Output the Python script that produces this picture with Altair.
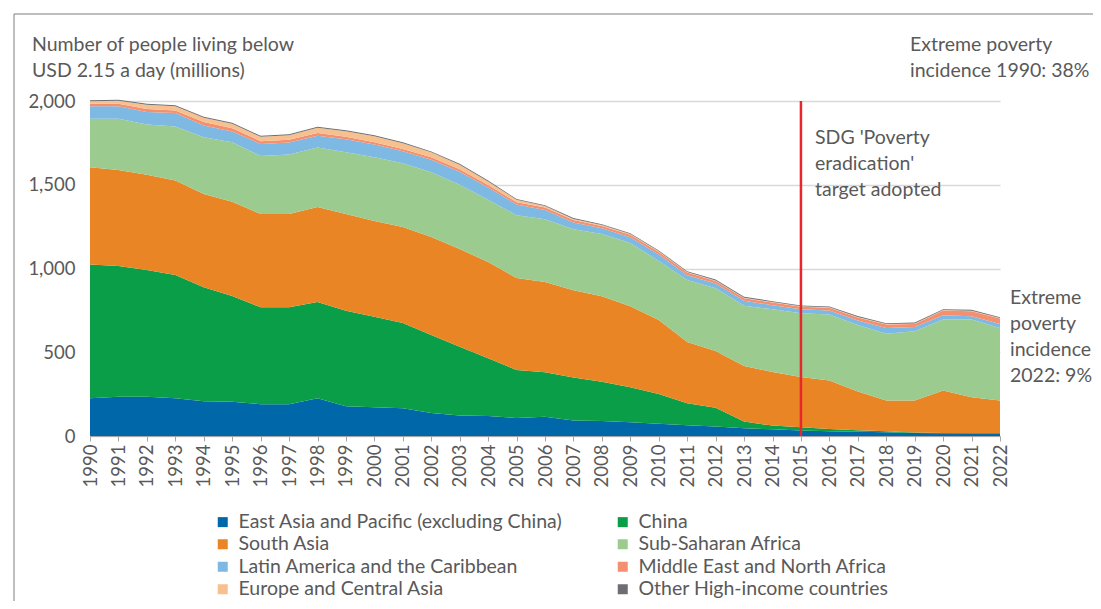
import altair as alt
import pandas as pd

years = list(range(1990, 2023))

series_names = [
    "East Asia and Pacific (excluding China)",
    "China",
    "South Asia",
    "Sub-Saharan Africa",
    "Latin America and the Caribbean",
    "Middle East and North Africa",
    "Europe and Central Asia",
    "Other High-income countries",
]
colors = ["#0068A8", "#0B9E48", "#E98524", "#9BCB8F", "#7EB9E3", "#F48F6F", "#F6C18F", "#6D6E71"]

eap = [225, 235, 235, 225, 208, 205, 190, 190, 225, 178, 172, 166, 137, 123, 120, 107, 115,
       93, 90, 82, 73, 64, 56, 46, 40, 33, 28, 25, 22, 18, 17, 16, 16]
china = [799, 780, 756, 736, 680, 631, 578, 578, 575, 570, 540, 509, 466, 410, 344, 287, 265,
         257, 234, 209, 178, 131, 113, 40, 22, 19, 14, 10, 6, 3, 1, 0, 0]
south_asia = [581, 573, 569, 565, 557, 562, 557, 557, 567, 577, 571, 573, 585, 583, 575, 549, 539,
              520, 510, 484, 441, 366, 338, 332, 320, 300, 290, 231, 184, 191, 254, 216, 196]
ssa = [289, 306, 300, 322, 339, 356, 347, 355, 356, 369, 381, 380, 386, 384, 371, 375, 375,
       364, 372, 377, 353, 371, 375, 359, 375, 381, 393, 396, 399, 413, 423, 463, 433]
lac = [74, 74, 74, 80, 70, 64, 72, 72, 70, 78, 76, 72, 76, 78, 74, 64, 56,
       40, 34, 34, 38, 28, 28, 30, 24, 24, 24, 28, 34, 26, 26, 20, 24]
mena = [16, 16, 18, 16, 20, 20, 16, 16, 16, 14, 14, 14, 14, 14, 14, 14, 14,
        16, 14, 16, 16, 16, 16, 16, 16, 14, 16, 18, 20, 18, 28, 30, 32]
eca = [14, 18, 26, 24, 26, 26, 26, 28, 32, 34, 36, 34, 30, 28, 22, 14, 9,
       6, 5, 4, 4, 3, 3, 3, 3, 3, 3, 3, 3, 3, 3, 3, 3]
other_hi = [6, 6, 6, 6, 6, 6, 6, 6, 6, 6, 5, 5, 5, 5, 5, 5, 5,
            5, 5, 5, 5, 5, 5, 5, 5, 5, 5, 5, 5, 5, 5, 5, 5]

y_ticks = [0, 500, 1000, 1500, 2000]

all_series = [eap, china, south_asia, ssa, lac, mena, eca, other_hi]
rows = []
for k, (name, vals) in enumerate(zip(series_names, all_series)):
    for yr, v in zip(years, vals):
        rows.append({"year": yr, "region": name, "value": v, "order": k})
df = pd.DataFrame(rows)

TXT = "#595959"
FONT = "Lato"
NOTE_SIZE = 19.5
AXIS_SIZE = 18.5

x_scale = alt.Scale(domain=[1990, 2022], nice=False, zero=False)
x_axis = alt.Axis(
    values=years, format="d", labelAngle=270, title=None, grid=False,
    domainColor="#A6A6A6", tickColor="#A6A6A6", tickSize=5,
    labelColor=TXT, labelFontSize=AXIS_SIZE, labelPadding=3, labelFont=FONT,
    labelOverlap=False, labelBound=False, labelFlush=False, zindex=1,
)

areas = alt.Chart(df).mark_area(interpolate="linear").encode(
    x=alt.X("year:Q", scale=x_scale, axis=x_axis),
    y=alt.Y(
        "value:Q",
        stack="zero",
        scale=alt.Scale(domain=[0, 2000], nice=False),
        axis=alt.Axis(
            values=y_ticks, format=",.0f", grid=True, gridColor="#D9D9D9", gridWidth=1.5,
            domain=False, ticks=False, labelPadding=15, title=None,
            labelColor=TXT, labelFontSize=AXIS_SIZE, labelFont=FONT,
        ),
    ),
    color=alt.Color(
        "region:N",
        scale=alt.Scale(domain=series_names, range=colors),
        sort=series_names,
        legend=alt.Legend(
            title=None, orient="none", legendX=123, legendY=411, columns=2,
            direction="horizontal",
            symbolType="square", symbolSize=100, symbolStrokeWidth=0,
            labelFontSize=NOTE_SIZE, labelFont=FONT, labelColor=TXT, labelLimit=600,
            columnPadding=50, rowPadding=1.5, labelOffset=6, padding=0,
        ),
    ),
    order=alt.Order("order:Q", sort="ascending"),
)

sdg = alt.Chart(pd.DataFrame({"year": [2015]})).mark_rule(
    color="#E8262B", strokeWidth=2.5
).encode(x=alt.X("year:Q", scale=x_scale, axis=x_axis), y=alt.value(0), y2=alt.value(335))

def note(lines, x, y):
    return alt.Chart(pd.DataFrame({"k": [0]})).mark_text(
        align="left", baseline="middle", fontSize=NOTE_SIZE, font=FONT, color=TXT, lineHeight=26
    ).encode(x=alt.value(x), y=alt.value(y), text=alt.value(lines))

n1 = note(["Number of people living below", "USD 2.15 a day (millions)"], -58, -56)
n2 = note(["Extreme poverty", "incidence 1990: 38%"], 820, -56)
n3 = note(["SDG 'Poverty", "eradication'", "target adopted"], 725, 37)
n4 = note(["Extreme", "poverty", "incidence", "2022: 9%"], 920, 197)

frame_top = alt.Chart(pd.DataFrame({"k": [0]})).mark_rule(color="#7F7F7F", strokeWidth=1).encode(
    x=alt.value(-76), x2=alt.value(1010), y=alt.value(-87)
)
frame_left = alt.Chart(pd.DataFrame({"k": [0]})).mark_rule(color="#7F7F7F", strokeWidth=1).encode(
    x=alt.value(-76), y=alt.value(-87), y2=alt.value(520)
)

chart = alt.layer(areas, sdg, n1, n2, n3, n4, frame_top, frame_left).properties(
    width=910,
    height=335,
    autosize=alt.AutoSizeParams(type="none"),
    padding={"left": 82, "top": 93, "right": 93, "bottom": 165},
).configure(font=FONT).configure_view(stroke=None).configure_axisX(labelOverlap=False)

chart.save("out.html", embed_options={"renderer": "svg", "actions": False})
